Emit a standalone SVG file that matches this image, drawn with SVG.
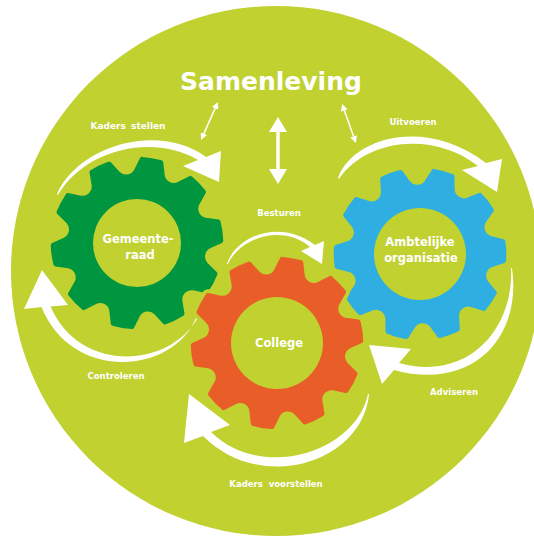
<svg xmlns="http://www.w3.org/2000/svg" width="534" height="538" viewBox="0 0 534 538">
<style>
  .lbl{font-family:"DejaVu Sans","Liberation Sans",sans-serif;font-weight:bold;fill:#fff;text-anchor:middle}
  .small{font-size:8.5px}
  .gt{font-size:11.5px}
  .title{font-size:25px}
  .arrow{fill:#fff}
  .hole{fill:#C0D130}
  .dbl{stroke:#fff;fill:none}
</style>
<defs>
  <path id="gear" d="M72.76,-13.49 L85.45,-9.74 A86,86 0 0 1 85.45,9.74 L72.76,13.49 A12,12 0 0 0 66.79,31.86 L74.85,42.35 A86,86 0 0 1 63.41,58.10 L50.94,53.68 A12,12 0 0 0 35.31,65.03 L35.66,78.26 A86,86 0 0 1 17.15,84.27 L9.66,73.37 A12,12 0 0 0 -9.66,73.37 L-17.15,84.27 A86,86 0 0 1 -35.66,78.26 L-35.31,65.03 A12,12 0 0 0 -50.94,53.68 L-63.41,58.10 A86,86 0 0 1 -74.85,42.35 L-66.79,31.86 A12,12 0 0 0 -72.76,13.49 L-85.45,9.74 A86,86 0 0 1 -85.45,-9.74 L-72.76,-13.49 A12,12 0 0 0 -66.79,-31.86 L-74.85,-42.35 A86,86 0 0 1 -63.41,-58.10 L-50.94,-53.68 A12,12 0 0 0 -35.31,-65.03 L-35.66,-78.26 A86,86 0 0 1 -17.15,-84.27 L-9.66,-73.37 A12,12 0 0 0 9.66,-73.37 L17.15,-84.27 A86,86 0 0 1 35.66,-78.26 L35.31,-65.03 A12,12 0 0 0 50.94,-53.68 L63.41,-58.10 A86,86 0 0 1 74.85,-42.35 L66.79,-31.86 A12,12 0 0 0 72.76,-13.49 Z"/>
  <marker id="hs" viewBox="0 0 7 7" refX="0" refY="3.5" markerWidth="7" markerHeight="7" markerUnits="userSpaceOnUse" orient="auto-start-reverse">
    <path d="M0,0 L7,3.5 L0,7 Z" fill="#fff"/>
  </marker>
  <marker id="hl" viewBox="0 0 15 18" refX="0" refY="9" markerWidth="15" markerHeight="18" markerUnits="userSpaceOnUse" orient="auto-start-reverse">
    <path d="M0,0 L15,9 L0,18 Z" fill="#fff"/>
  </marker>
</defs>
<rect width="534" height="538" fill="#fff"/>
<circle id="samenleving-bg" cx="276" cy="271" r="265" fill="#C0D130"/>

<g id="gemeenteraad">
  <use href="#gear" transform="translate(137,243) rotate(-8) scale(0.975)" fill="#009640" stroke="#009640" stroke-width="5" stroke-linejoin="round"/>
  <circle class="hole" cx="137" cy="243" r="44"/>
  <text class="lbl gt" x="138" y="242.5">Gemeente-</text>
  <text class="lbl gt" x="140" y="259">raad</text>
</g>

<g id="ambtelijke-organisatie">
  <use href="#gear" transform="translate(420,254) rotate(-2) scale(0.975)" fill="#2FAEE2" stroke="#2FAEE2" stroke-width="5" stroke-linejoin="round"/>
  <circle class="hole" cx="420" cy="254" r="46"/>
  <text class="lbl gt" x="420" y="246">Ambtelijke</text>
  <text class="lbl gt" x="421" y="262">organisatie</text>
</g>

<g id="college">
  <use href="#gear" transform="translate(277,343) rotate(-8) scale(0.975)" fill="none" stroke="#C0D130" stroke-width="13" stroke-linejoin="round"/>
  <use href="#gear" transform="translate(277,343) rotate(-8) scale(0.975)" fill="#E85D28" stroke="#E85D28" stroke-width="5" stroke-linejoin="round"/>
  <circle class="hole" cx="277" cy="343" r="46"/>
  <text class="lbl gt" x="279" y="347">College</text>
</g>

<g id="samenleving">
  <text class="lbl title" x="271" y="90">Samenleving</text>
</g>

<g id="connectors">
  <line class="dbl" x1="215.1" y1="108.4" x2="203.9" y2="133.6" stroke-width="1.5" marker-start="url(#hs)" marker-end="url(#hs)"/>
  <line class="dbl" x1="278" y1="132" x2="278" y2="169" stroke-width="3.5" marker-start="url(#hl)" marker-end="url(#hl)"/>
  <line class="dbl" x1="344.4" y1="110.6" x2="353.6" y2="136.4" stroke-width="1.5" marker-start="url(#hs)" marker-end="url(#hs)"/>

  <path class="arrow" d="M57,194 C78,146 158,122 206,157 L221,151 L219,182 L183,166 L198,160 C152,133 84,150 58,195 Z"/>
  <path class="arrow" d="M338,178 C352,138 425,116 486,163 L502,159 L497,192 L462,170 L478,166 C432,130 365,140 339,179 Z"/>
  <path class="arrow" d="M227,264 C236,236 280,218 315,245 L324,241 L322,264 L301,251 L310,247 C282,223 240,238 228,264 Z"/>
  <path class="arrow" d="M196,318 C172,375 72,382 41.5,307 L24,309 L42,270 L68,305 L50.5,306.6 C80,374 168,368 197,319 Z"/>
  <path class="arrow" d="M512,268 C522,335 475,392 394,370 L382,384 L369,345 L411,349 L399,363 C465,382 514,332 511,268 Z"/>
  <path class="arrow" d="M369,394 C363,462 262,495 203,436 L184,443 L189,394 L230,425 L211,432 C262,482 356,452 368,394 Z"/>

  <text class="lbl" x="128" y="128.5" font-size="9" word-spacing="2">Kaders stellen</text>
  <text class="lbl small" x="413" y="125">Uitvoeren</text>
  <text class="lbl small" x="279" y="216">Besturen</text>
  <text class="lbl small" x="116" y="378.5">Controleren</text>
  <text class="lbl small" x="454" y="394.5">Adviseren</text>
  <text class="lbl small" x="276" y="486.5" word-spacing="3">Kaders voorstellen</text>
</g>
</svg>
